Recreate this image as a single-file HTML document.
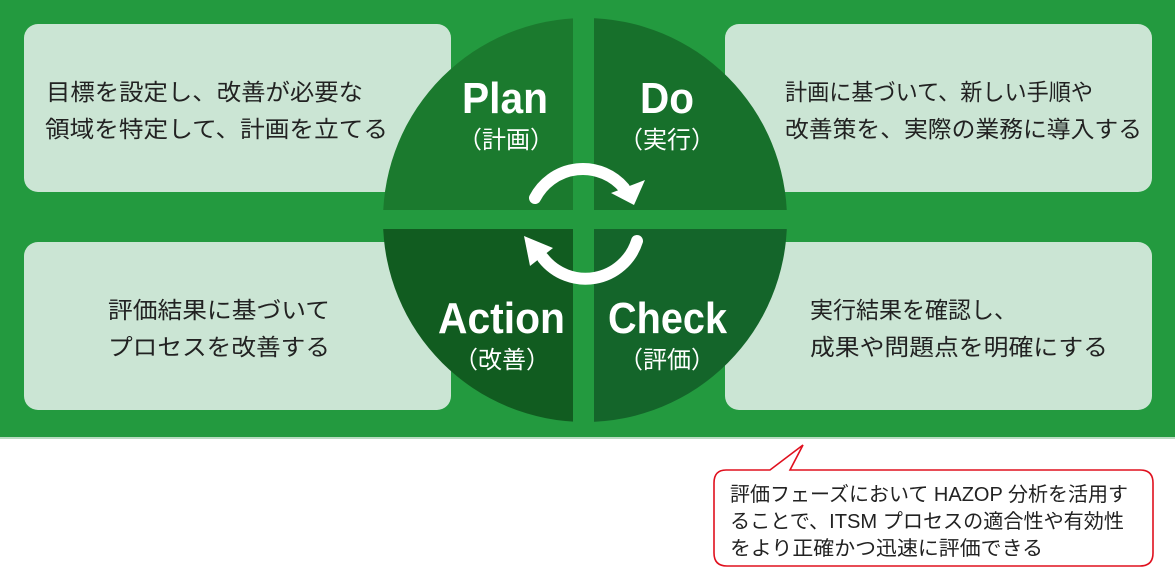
<!DOCTYPE html>
<html><head><meta charset="utf-8"><style>
html,body{margin:0;padding:0;background:#fff}
svg{display:block}
.j{font-family:"Liberation Sans","Noto Sans CJK JP",sans-serif;fill:#222}
.t{font-family:"Liberation Sans",sans-serif;font-weight:bold;fill:#fff}
.s{font-family:"Noto Sans CJK JP",sans-serif;fill:#fff}
</style></head><body>
<svg width="1175" height="575" viewBox="0 0 1175 575">
<rect x="0" y="0" width="1175" height="438" fill="#239a3f"/>
<rect x="0" y="437" width="1175" height="2" fill="#b9dcc2"/>
<g fill="#cbe5d4">
<rect x="24" y="24" width="427" height="168" rx="14"/>
<rect x="24" y="242" width="427" height="168" rx="14"/>
<rect x="725" y="24" width="427" height="168" rx="14"/>
<rect x="725" y="242" width="427" height="168" rx="14"/>
</g>
<defs><clipPath id="c"><circle cx="585" cy="220" r="202"/></clipPath></defs>
<g clip-path="url(#c)">
<rect x="380" y="15" width="193" height="195" fill="#1b7a2e"/>
<rect x="594" y="15" width="196" height="195" fill="#17702b"/>
<rect x="380" y="229" width="193" height="196" fill="#115c20"/>
<rect x="594" y="229" width="196" height="196" fill="#14652a"/>
</g>
<text class="j" font-size="23" x="46" y="100" textLength="317" lengthAdjust="spacingAndGlyphs">目標を設定し、改善が必要な</text>
<text class="j" font-size="23" x="45" y="137" textLength="343" lengthAdjust="spacingAndGlyphs">領域を特定して、計画を立てる</text>
<text class="j" font-size="23" x="108" y="318" textLength="222" lengthAdjust="spacingAndGlyphs">評価結果に基づいて</text>
<text class="j" font-size="23" x="108" y="355" textLength="222" lengthAdjust="spacingAndGlyphs">プロセスを改善する</text>
<text class="j" font-size="23" x="785" y="100" textLength="308" lengthAdjust="spacingAndGlyphs">計画に基づいて、新しい手順や</text>
<text class="j" font-size="23" x="785" y="137" textLength="357" lengthAdjust="spacingAndGlyphs">改善策を、実際の業務に導入する</text>
<text class="j" font-size="23" x="810" y="318" textLength="207" lengthAdjust="spacingAndGlyphs">実行結果を確認し、</text>
<text class="j" font-size="23" x="810" y="355" textLength="298" lengthAdjust="spacingAndGlyphs">成果や問題点を明確にする</text>
<text class="t" font-size="44" x="462" y="113" textLength="86" lengthAdjust="spacingAndGlyphs">Plan</text>
<text class="t" font-size="44" x="640" y="113" textLength="54" lengthAdjust="spacingAndGlyphs">Do</text>
<text class="t" font-size="44" x="438" y="333" textLength="127" lengthAdjust="spacingAndGlyphs">Action</text>
<text class="t" font-size="44" x="608" y="333" textLength="119" lengthAdjust="spacingAndGlyphs">Check</text>
<text class="s" font-size="24" x="506" y="148" text-anchor="middle">（計画）</text>
<text class="s" font-size="24" x="667" y="148" text-anchor="middle">（実行）</text>
<text class="s" font-size="24" x="502" y="368" text-anchor="middle">（改善）</text>
<text class="s" font-size="24" x="667" y="368" text-anchor="middle">（評価）</text>
<g fill="none" stroke="#fff" stroke-width="12" stroke-linecap="round">
<path d="M535 198 A54 54 0 0 1 624 188"/>
<path d="M637 241 A54 54 0 0 1 543 258"/>
</g>
<g fill="#fff">
<polygon points="645,180 634,205 611,193"/>
<polygon points="524,236 553,248 530,266"/>
</g>
<path d="M726 470 L770 470 L803 445 L790 470 L1140 470 Q1153 470 1153 483 L1153 553 Q1153 566 1140 566 L727 566 Q714 566 714 553 L714 483 Q714 470 726 470 Z" fill="#fff" stroke="#e0101e" stroke-width="1.6"/>
<text class="j" font-size="20" x="730" y="501" textLength="398" lengthAdjust="spacingAndGlyphs">評価フェーズにおいて HAZOP 分析を活用す</text>
<text class="j" font-size="20" x="730" y="528" textLength="394" lengthAdjust="spacingAndGlyphs">ることで、ITSM プロセスの適合性や有効性</text>
<text class="j" font-size="20" x="730" y="555" textLength="313" lengthAdjust="spacingAndGlyphs">をより正確かつ迅速に評価できる</text>
</svg>
</body></html>
